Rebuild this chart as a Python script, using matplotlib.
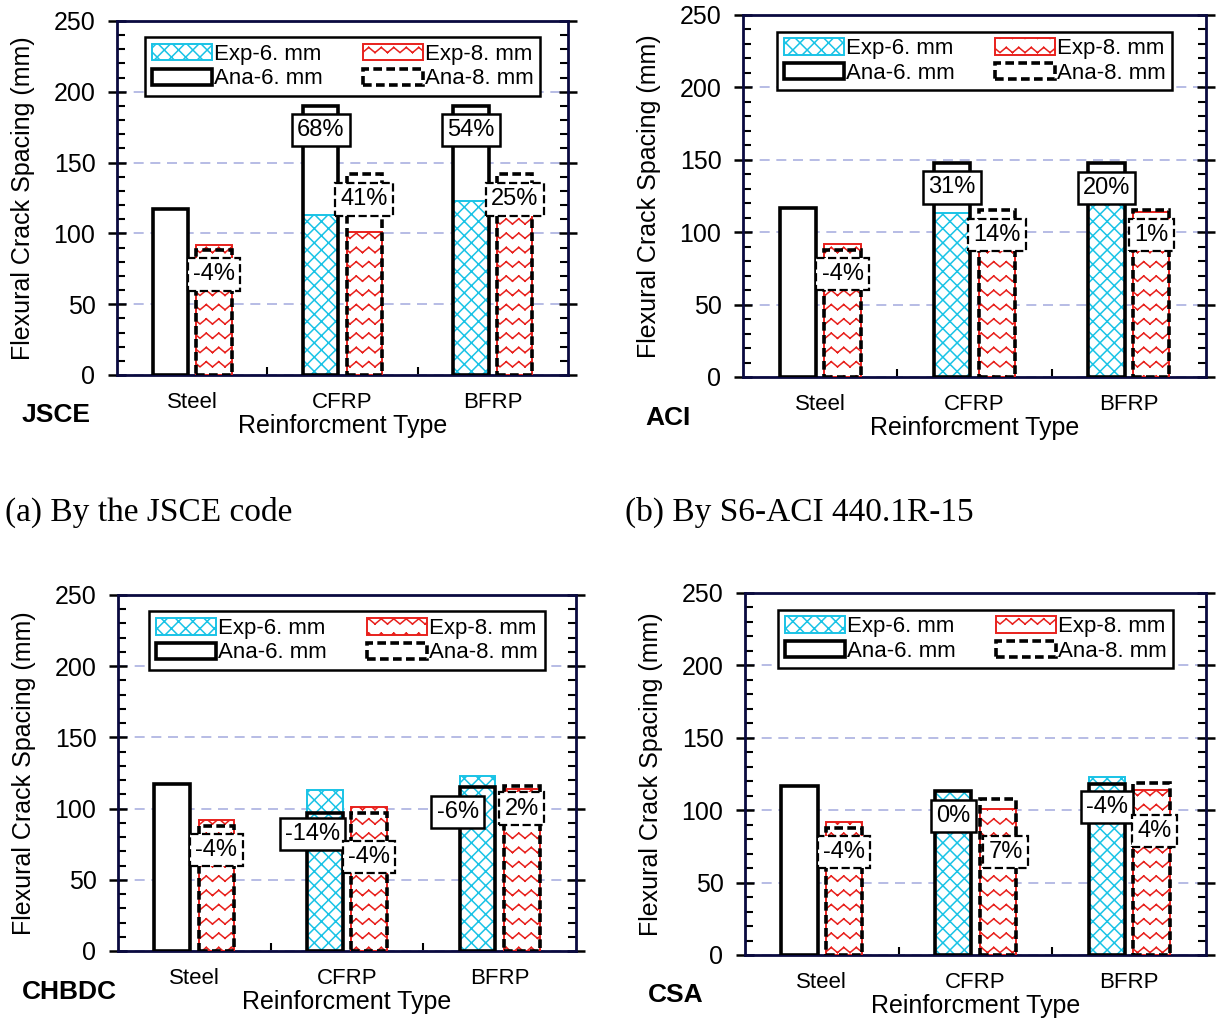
import warnings
import numpy as np
import matplotlib
matplotlib.use('Agg')
import matplotlib.pyplot as plt
import matplotlib.hatch as mhatch
from matplotlib.path import Path
from matplotlib.patches import Patch
from matplotlib.ticker import MultipleLocator, FixedLocator

warnings.filterwarnings('ignore')

# data
categories = ['Steel', 'CFRP', 'BFRP']
exp_6 = [np.nan, 113, 123]
exp_8 = [92, 101, 114]

ana_6_jsce = [117, 190, 190]
ana_8_jsce = [88, 142, 142]
pct_6_jsce = [None, '68%', '54%']
pct_8_jsce = ['-4%', '41%', '25%']

ana_6_aci = [117, 148, 147.5]
ana_8_aci = [88, 115, 115]
pct_6_aci = [None, '31%', '20%']
pct_8_aci = ['-4%', '14%', '1%']

ana_6_chbdc = [117, 97, 115.5]
ana_8_chbdc = [88, 97, 116]
pct_6_chbdc = [None, '-14%', '-6%']
pct_8_chbdc = ['-4%', '-4%', '2%']

ana_6_csa = [117, 113, 118]
ana_8_csa = [88, 108, 118.5]
pct_6_csa = [None, '0%', '-4%']
pct_8_csa = ['-4%', '7%', '4%']

CYAN = '#19c3e6'
RED = '#e8201c'
GRID = '#aab0e0'
SPINE = '#0a0a40'
DASH = (0, (2.4, 1.2))

plt.rcParams['font.family'] = ['Liberation Sans', 'DejaVu Sans']
plt.rcParams['hatch.linewidth'] = 1.1


# custom hatches, built from separate two-point segments so agg does not fill them
class ZigzagHatch(mhatch.HatchPatternBase):
    # 'z' -> wavy rows like the 8 mm bars
    def __init__(self, hatch, density):
        self.rows = hatch.count('z') * 7
        self.peaks = 8
        self.segs = 2 * self.peaks
        self.num_vertices = self.rows * self.segs * 2

    def set_vertices_and_codes(self, vertices, codes):
        xs = np.linspace(0, 1, self.segs + 1)
        sign = np.where(np.arange(self.segs + 1) % 2 == 0, -1.0, 1.0)
        amp = 0.026
        k = 0
        for i in range(self.rows):
            y0 = (i + 0.5) / self.rows
            ys = y0 + amp * sign
            for j in range(self.segs):
                vertices[k] = (xs[j], ys[j])
                vertices[k + 1] = (xs[j + 1], ys[j + 1])
                codes[k] = Path.MOVETO
                codes[k + 1] = Path.LINETO
                k += 2


class FineCrossHatch(mhatch.HatchPatternBase):
    # 'c' -> diagonal cross hatch, a bit finer than 'x'
    def __init__(self, hatch, density):
        self.n = hatch.count('c') * 7
        self.num_vertices = (2 * self.n + 1) * 4 if self.n else 0

    def set_vertices_and_codes(self, vertices, codes):
        k = 0
        for s in range(-self.n, self.n + 1):
            x0 = s / self.n
            vertices[k] = (x0, 0.0)
            vertices[k + 1] = (x0 + 1.0, 1.0)
            vertices[k + 2] = (x0, 1.0)
            vertices[k + 3] = (x0 + 1.0, 0.0)
            codes[k] = Path.MOVETO
            codes[k + 1] = Path.LINETO
            codes[k + 2] = Path.MOVETO
            codes[k + 3] = Path.LINETO
            k += 4


mhatch._hatch_types.append(ZigzagHatch)
mhatch._hatch_types.append(FineCrossHatch)

fig = plt.figure(figsize=(12.16, 10.23), dpi=100)

# axes boxes in pixels: left, right, top, bottom
boxes = {
    'JSCE': (117, 568, 21, 375),
    'ACI': (743, 1206, 15, 377),
    'CHBDC': (118, 576, 595, 951),
    'CSA': (745, 1206, 593, 955),
}
code_pos = {'JSCE': (22, 415), 'ACI': (645, 418), 'CHBDC': (22, 992), 'CSA': (648, 995)}

# label offsets (dx, dy) for the 6 mm and 8 mm boxes
lab_off = {
    'JSCE': [(0, -17), (0, -17), (0, -17)],
    'ACI': [(0, -17), (0, -17), (0, -17)],
    'CHBDC': [(0, -16), (-0.08, -15), (-0.13, -18)],
    'CSA': [(0, -17), (0, -17), (0, -16)],
}
lab_off8 = {
    'JSCE': [(0, -17), (0, -18), (0, -18)],
    'ACI': [(0, -17), (0, -17), (0, -17)],
    'CHBDC': [(0, -17), (0, -31), (0, -16)],
    'CSA': [(0, -17), (0.05, -37), (0.02, -33)],
}

W = 1216
H = 1023
off = 0.145
bw = 0.235


def draw_panel(code, ana_6, ana_8, pct_6, pct_8):
    l, r, t, b = boxes[code]
    ax = fig.add_axes([l / W, 1 - b / H, (r - l) / W, (b - t) / H])
    x = np.arange(len(categories))

    ax.bar(x - off, ana_6, bw, facecolor='white', edgecolor='none', zorder=2)
    ax.bar(x + off, ana_8, bw, facecolor='white', edgecolor='none', zorder=2)
    ax.bar(x - off, exp_6, bw, facecolor='white', edgecolor=CYAN, hatch='c', lw=1.4, zorder=3)
    ax.bar(x + off, exp_8, bw, facecolor='white', edgecolor=RED, hatch='z', lw=1.4, zorder=3)
    ax.bar(x - off, ana_6, bw, facecolor='none', edgecolor='black', lw=2.6, zorder=4)
    ax.bar(x + off, ana_8, bw, facecolor='none', edgecolor='black', lw=2.6, ls=DASH, zorder=4)

    for i in range(len(categories)):
        if pct_6[i]:
            dx, dy = lab_off[code][i]
            ax.text(x[i] - off + dx, ana_6[i] + dy, pct_6[i], ha='center', va='center',
                    fontsize=17, zorder=6,
                    bbox=dict(boxstyle='square,pad=0.22', fc='white', ec='black', lw=1.8))
        if pct_8[i]:
            dx, dy = lab_off8[code][i]
            ax.text(x[i] + off + dx, ana_8[i] + dy, pct_8[i], ha='center', va='center',
                    fontsize=17, zorder=6,
                    bbox=dict(boxstyle='square,pad=0.22', fc='white', ec='black', lw=1.6, ls='--'))

    ax.set_xlim(-0.5, 2.5)
    ax.set_ylim(0, 250)
    ax.set_xticks(x)
    ax.set_xticklabels(categories, fontsize=16)
    ax.xaxis.set_minor_locator(FixedLocator([0.5, 1.5]))
    ax.tick_params(axis='x', which='major', length=0, pad=12)
    ax.tick_params(axis='x', which='minor', direction='in', length=6, width=1.5)

    ax.yaxis.set_major_locator(MultipleLocator(50))
    ax.yaxis.set_minor_locator(MultipleLocator(10))
    ax.tick_params(axis='y', which='major', direction='inout', length=13, width=1.8,
                   left=True, right=True, labelsize=18, pad=9)
    ax.tick_params(axis='y', which='minor', direction='in', length=6, width=1.5,
                   left=True, right=True)

    ax.set_axisbelow(True)
    ax.yaxis.grid(True, which='major', color=GRID, lw=1.2, ls=(0, (6, 4)))
    for s in ax.spines.values():
        s.set_linewidth(2)
        s.set_color(SPINE)

    ax.set_xlabel('Reinforcment Type', fontsize=18, labelpad=1)
    ax.set_ylabel('Flexural Crack Spacing (mm)', fontsize=18)
    ax.yaxis.set_label_coords(-82 / (r - l), 0.5)

    handles = [
        Patch(facecolor='white', edgecolor=CYAN, hatch='c', lw=1.4),
        Patch(facecolor='white', edgecolor='black', lw=2.6),
        Patch(facecolor='white', edgecolor=RED, hatch='z', lw=1.4),
        Patch(facecolor='white', edgecolor='black', lw=2.6, ls=DASH),
    ]
    labels = ['Exp-6. mm', 'Ana-6. mm', 'Exp-8. mm', 'Ana-8. mm']
    leg = ax.legend(handles, labels, ncol=2, loc='upper center', bbox_to_anchor=(0.5, 0.985),
                    fontsize=16, handlelength=2.7, handleheight=0.75, handletextpad=0.1,
                    columnspacing=1.8, labelspacing=0.15, borderpad=0.3,
                    fancybox=False, framealpha=1, edgecolor='black')
    leg.get_frame().set_linewidth(1.8)
    leg.set_zorder(7)

    cx, cy = code_pos[code]
    fig.text(cx / W, 1 - cy / H, code, fontsize=19, fontweight='bold', ha='left', va='center')
    return ax


draw_panel('JSCE', ana_6_jsce, ana_8_jsce, pct_6_jsce, pct_8_jsce)
draw_panel('ACI', ana_6_aci, ana_8_aci, pct_6_aci, pct_8_aci)
draw_panel('CHBDC', ana_6_chbdc, ana_8_chbdc, pct_6_chbdc, pct_8_chbdc)
draw_panel('CSA', ana_6_csa, ana_8_csa, pct_6_csa, pct_8_csa)

fig.text(5 / W, 1 - 512 / H, '(a) By the JSCE code', fontsize=24,
         family=['Liberation Serif', 'DejaVu Serif'], ha='left', va='center')
fig.text(625 / W, 1 - 512 / H, '(b) By S6-ACI 440.1R-15', fontsize=24,
         family=['Liberation Serif', 'DejaVu Serif'], ha='left', va='center')

fig.savefig('out.png', dpi=100)
